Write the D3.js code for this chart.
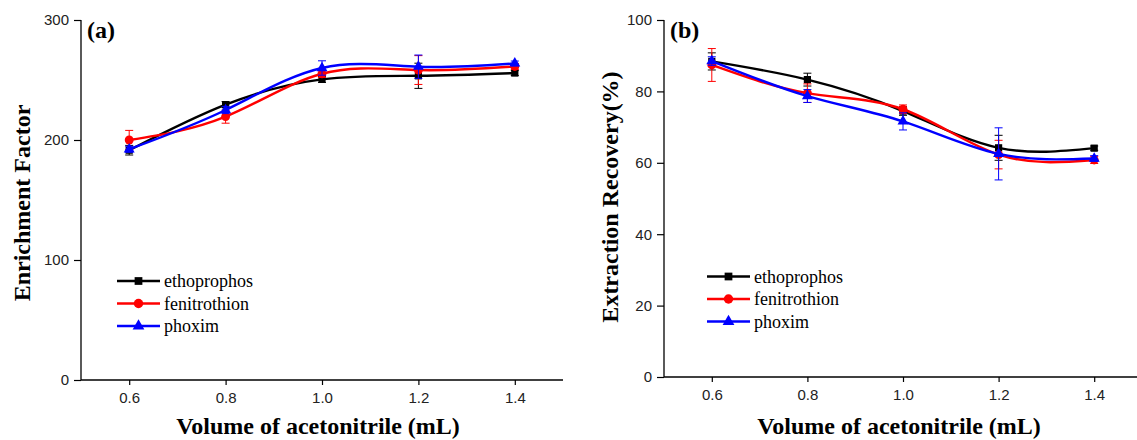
<!DOCTYPE html>
<html>
<head>
<meta charset="utf-8">
<script src="https://cdn.jsdelivr.net/npm/d3@7"></script>
<style>
  body { margin: 0; background: #fff; }
  svg { display: block; }
</style>
</head>
<body>
<svg width="1137" height="440"></svg>
<script>
// volumes of acetonitrile (mL)
var volumes = [0.6, 0.8, 1.0, 1.2, 1.4];
var compounds = ["ethoprophos", "fenitrothion", "phoxim"];
var colors = ["#000000", "#ff0000", "#0000ff"];

// (a) enrichment factor
var efEtho = [191.5, 229.5, 250.5, 253.5, 255.8];
var efEthoErr = [4, 2.5, 2.5, 10.5, 2];
var efFenit = [200, 219.5, 255.2, 258.3, 261.3];
var efFenitErr = [8, 5.5, 3, 12, 2.5];
var efPhox = [192.3, 225, 260, 261.1, 263.8];
var efPhoxErr = [2.5, 3, 6, 9.7, 2];

// (b) extraction recovery (%)
var erEtho = [88.4, 83.3, 74.5, 64.2, 64.1];
var erEthoErr = [2.4, 1.8, 1.2, 3.5, 0.6];
var erFenit = [87.4, 79.5, 75.0, 62.3, 60.8];
var erFenitErr = [4.6, 2.6, 1.2, 4, 1];
var erPhox = [88.5, 78.7, 71.6, 62.5, 61.2];
var erPhoxErr = [1.2, 1.8, 2.4, 7.3, 0.8];

var xTicks = [0.6, 0.8, 1.0, 1.2, 1.4];

var serif = "'Liberation Serif', 'Times New Roman', serif";
var sans = "'Liberation Sans', Arial, sans-serif";

var svg = d3.select("svg");

var symbols = [d3.symbolSquare, d3.symbolCircle, d3.symbolTriangle];
var symSize = [52, 62, 52];

function panel(opt) {
  var x = d3.scaleLinear().domain([0.5, 1.5]).range([opt.left, opt.right]);
  var y = d3.scaleLinear().domain([0, opt.ymax]).range([opt.bottom, opt.top]);
  var g = svg.append("g");

  // x axis: minor ticks every 0.1, labels every 0.2
  var xa = g.append("g").attr("transform", "translate(0," + opt.bottom + ")");
  xa.call(d3.axisBottom(x).tickValues(d3.range(0.5, 1.51, 0.1)).tickSize(5).tickFormat(""));
  xa.call(d3.axisBottom(x).tickValues(xTicks).tickSize(5).tickPadding(7).tickFormat(d3.format(".1f")));

  var ya = g.append("g").attr("transform", "translate(" + opt.left + ",0)");
  ya.call(d3.axisLeft(y).tickValues(d3.range(0, opt.ymax + 1, opt.minor)).tickSize(4).tickFormat(""));
  ya.call(d3.axisLeft(y).tickValues(d3.range(0, opt.ymax + 1, opt.major)).tickSize(7).tickPadding(5));
  g.selectAll(".domain").remove();
  g.selectAll(".tick line").attr("stroke-width", 1.2);
  g.selectAll(".tick text").attr("font-family", sans).attr("font-size", 15).attr("fill", "#222");
  g.append("line").attr("x1", opt.left).attr("x2", opt.right).attr("y1", opt.bottom).attr("y2", opt.bottom)
    .attr("stroke", "#000").attr("stroke-width", 1.3);
  g.append("line").attr("x1", opt.left).attr("x2", opt.left).attr("y1", opt.bottom).attr("y2", opt.top)
    .attr("stroke", "#000").attr("stroke-width", 1.3);

  var line = d3.line()
    .x(function(d) { return x(d[0]); })
    .y(function(d) { return y(d[1]); })
    .curve(d3.curveNatural);

  opt.series.forEach(function(s, i) {
    var pts = volumes.map(function(v, j) { return [v, s[0][j], s[1][j]]; });
    var c = colors[i];
    var eb = g.append("g").attr("stroke", c).attr("stroke-width", 1);
    pts.forEach(function(p) {
      var px = x(p[0]), y0 = y(p[1] - p[2]), y1 = y(p[1] + p[2]);
      eb.append("line").attr("x1", px).attr("x2", px).attr("y1", y0).attr("y2", y1);
      eb.append("line").attr("x1", px - 4).attr("x2", px + 4).attr("y1", y0).attr("y2", y0);
      eb.append("line").attr("x1", px - 4).attr("x2", px + 4).attr("y1", y1).attr("y2", y1);
    });
    g.append("path").datum(pts).attr("d", line)
      .attr("fill", "none").attr("stroke", c).attr("stroke-width", 2.4);
    g.selectAll(null).data(pts).enter().append("path")
      .attr("d", d3.symbol().type(symbols[i]).size(symSize[i]))
      .attr("transform", function(d) { return "translate(" + x(d[0]) + "," + y(d[1]) + ")"; })
      .attr("fill", c);
  });

  // legend
  compounds.forEach(function(name, i) {
    var ly = opt.legY + i * 22.5;
    g.append("line").attr("x1", opt.legX).attr("x2", opt.legX + 43).attr("y1", ly).attr("y2", ly)
      .attr("stroke", colors[i]).attr("stroke-width", 2.4);
    g.append("path").attr("d", d3.symbol().type(symbols[i]).size(symSize[i] + 8)())
      .attr("transform", "translate(" + (opt.legX + 21.5) + "," + ly + ")").attr("fill", colors[i]);
    g.append("text").attr("font-family", serif).attr("x", opt.legX + 47).attr("y", ly + 6)
      .attr("font-size", 18).text(name);
  });

  g.append("text").attr("font-family", serif).attr("x", opt.left + 6).attr("y", 38)
    .attr("font-size", 24).attr("font-weight", "bold").text(opt.tag);

  g.append("text").attr("font-family", serif)
    .attr("transform", "translate(" + opt.yTitleX + "," + opt.yTitleY + ") rotate(-90)")
    .attr("text-anchor", "middle").attr("font-size", 24).attr("font-weight", "bold").text(opt.yTitle);

  g.append("text").attr("font-family", serif).attr("x", opt.xTitleX).attr("y", 434)
    .attr("text-anchor", "middle").attr("font-size", 24).attr("font-weight", "bold")
    .text("Volume of acetonitrile (mL)");
}

panel({
  left: 81, right: 563, top: 20, bottom: 380, ymax: 300, major: 100, minor: 50,
  series: [[efEtho, efEthoErr], [efFenit, efFenitErr], [efPhox, efPhoxErr]],
  legX: 117, legY: 281, tag: "(a)",
  yTitle: "Enrichment Factor", yTitleX: 30, yTitleY: 203, xTitleX: 318
});

panel({
  left: 664, right: 1142, top: 20, bottom: 377, ymax: 100, major: 20, minor: 10,
  series: [[erEtho, erEthoErr], [erFenit, erFenitErr], [erPhox, erPhoxErr]],
  legX: 707, legY: 276.5, tag: "(b)",
  yTitle: "Extraction Recovery(%)", yTitleX: 618, yTitleY: 197, xTitleX: 899
});
</script>
</body>
</html>
